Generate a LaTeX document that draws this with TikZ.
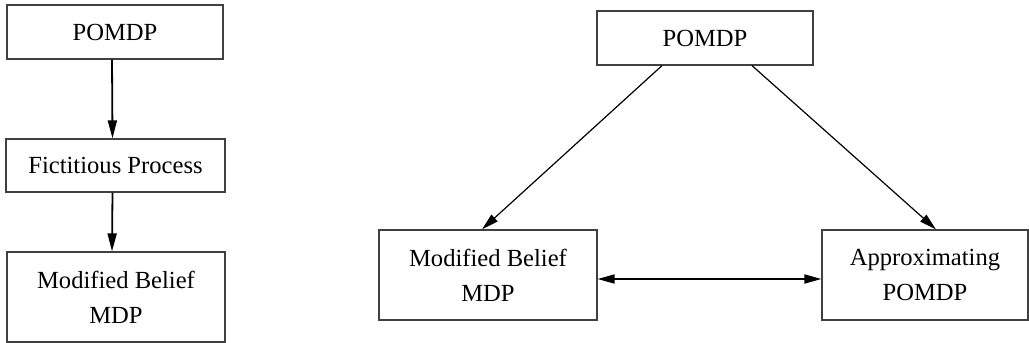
\documentclass[tikz,border=0pt]{standalone}
\usepackage{fontspec}
\setmainfont{Liberation Serif}
\usetikzlibrary{arrows.meta, positioning}

\begin{document}
\begin{tikzpicture}[
  x=0.5pt, y=-0.5pt,
  font=\fontsize{12.3}{17.5}\selectfont,
  box/.style={
    draw=black!75, line width=0.6pt, align=center, inner sep=0pt,
    minimum width=#1, minimum height=27pt
  },
  tall/.style={minimum height=45pt},
  flow/.style={-{Triangle[length=9pt, width=4.5pt]}, line width=0.9pt},
  link/.style={-{Triangle[length=8.5pt, width=4.5pt]}, line width=0.6pt}
]
  \useasboundingbox (0,0) rectangle (1029,343);

  % left: chain
  \node[box=108pt] (lpomdp) at (115,32) {POMDP};
  \node[box=109.5pt, minimum height=26.5pt] (fict) at (115.5,165.5) {Fictitious Process};
  \node[box=109pt, tall] (lmdp) at (116,297) {Modified Belief\\MDP};

  \draw[flow] ([xshift=-1.5pt]lpomdp.south) -- ([xshift=-1.5pt]fict.north);
  \draw[flow] ([xshift=-1.5pt]fict.south) -- ([xshift=-2pt]lmdp.north);

  % right: triangle
  \node[box=108pt] (rpomdp) at (705,38) {POMDP};
  \node[box=109pt, tall] (rmdp) at (488,275) {Modified Belief\\MDP};
  \node[box=103pt, tall] (approx) at (925,275) {Approximating\\POMDP};

  \draw[link] ([xshift=-21.5pt]rpomdp.south) -- ([xshift=-3pt]rmdp.north);
  \draw[link] ([xshift=23.5pt]rpomdp.south) -- ([xshift=5.5pt]approx.north);
  \draw[{Triangle[length=8.5pt, width=4.5pt]}-{Triangle[length=8.5pt, width=4.5pt]}, line width=0.9pt]
    ([yshift=-2pt]rmdp.east) -- ([yshift=-2pt]approx.west);
\end{tikzpicture}
\end{document}
